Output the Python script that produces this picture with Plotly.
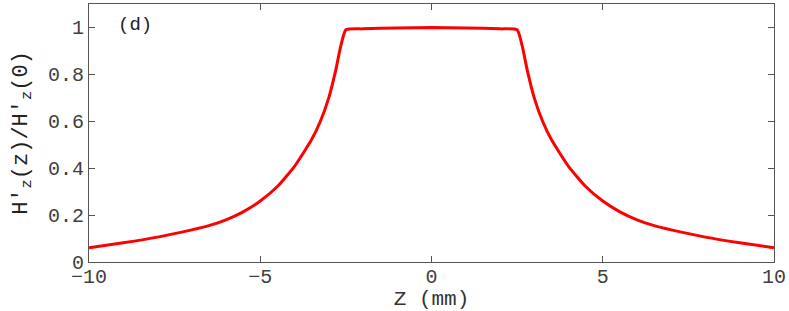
import plotly.graph_objects as go

z_mm = [-10, -9, -8, -7, -6.5, -6, -5.5, -5, -4.5, -4, -3.5, -3.25, -3.0, -2.8, -2.65, -2.5,
        -2, -1, 0, 1, 2,
        2.5, 2.65, 2.8, 3.0, 3.25, 3.5, 4, 4.5, 5, 5.5, 6, 6.5, 7, 8, 9, 10]
h_ratio = [0.061, 0.082, 0.106, 0.137, 0.155, 0.180, 0.214, 0.260, 0.322, 0.408, 0.522, 0.598, 0.700, 0.815, 0.920, 0.990,
           0.994, 0.998, 1.0, 0.998, 0.994,
           0.990, 0.920, 0.815, 0.700, 0.598, 0.522, 0.408, 0.322, 0.260, 0.214, 0.180, 0.155, 0.137, 0.106, 0.082, 0.061]

x_ticks = [-10, -5, 0, 5, 10]
x_tick_text = ["\u221210", "\u22125", "0", "5", "10"]
y_ticks = [0, 0.2, 0.4, 0.6, 0.8, 1]
y_tick_text = ["0", "0.2", "0.4", "0.6", "0.8", "1"]

FONT = "Liberation Mono, Courier New, monospace"

fig = go.Figure()
fig.add_trace(go.Scatter(x=z_mm, y=h_ratio, mode="lines",
                         line=dict(color="#ff0000", width=3, shape="spline", smoothing=0.5),
                         showlegend=False))

fig.add_annotation(x=-8.65, y=1.01, text="(d)", showarrow=False, xref="x", yref="y",
                   font=dict(family=FONT, size=19, color="#222"))

axis_common = dict(ticks="inside", ticklen=6, tickcolor="#555", showgrid=False, zeroline=False,
                   showline=True, linecolor="#555", linewidth=1, mirror="ticks", automargin=False,
                   tickfont=dict(family=FONT, size=20, color="#404040"))

fig.update_layout(
    width=789, height=311,
    margin=dict(l=89, r=15, t=4, b=49),
    paper_bgcolor="white", plot_bgcolor="white",
    font=dict(family=FONT, size=20, color="#333"),
    xaxis=dict(range=[-10, 10], tickvals=x_ticks, ticktext=x_tick_text, ticklabelstandoff=-4,
               title=dict(text="Z (mm)", standoff=7, font=dict(family=FONT, size=21, color="#333")),
               **axis_common),
    yaxis=dict(range=[0, 1.1], tickvals=y_ticks, ticktext=y_tick_text,
               title=dict(text="H\u2032<sub>z</sub>(z)/H\u2032<sub>z</sub>(0)", standoff=14,
                          font=dict(family=FONT, size=22, color="#222")),
               **axis_common),
)

fig.write_html("out.html", config={"displayModeBar": False},
               post_script="document.body.style.margin='0';")
